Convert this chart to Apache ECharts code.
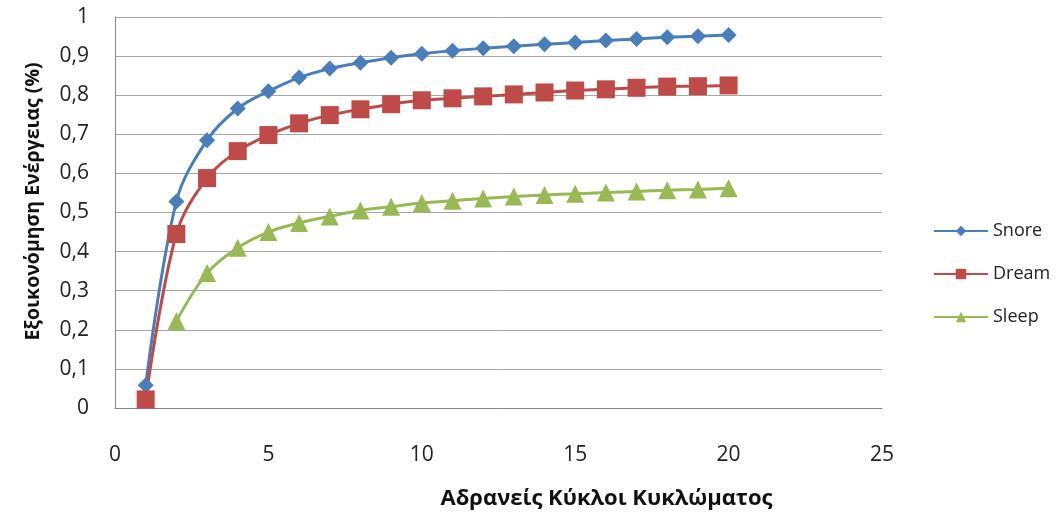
<!DOCTYPE html>
<html>
<head>
<meta charset="utf-8">
<script src="https://cdn.jsdelivr.net/npm/echarts@6/dist/echarts.min.js"></script>
<style>
  html, body { margin: 0; padding: 0; background: #fff; }
  #chart { width: 1059px; height: 515px; }
</style>
</head>
<body>
<div id="chart"></div>
<script>
// Idle circuit cycles vs. energy savings for three low-power modes
const cycles = [1, 2, 3, 4, 5, 6, 7, 8, 9, 10, 11, 12, 13, 14, 15, 16, 17, 18, 19, 20];
const snore = [0.058, 0.528, 0.685, 0.766, 0.81, 0.845, 0.868, 0.883, 0.896, 0.906,
               0.914, 0.92, 0.925, 0.93, 0.935, 0.94, 0.944, 0.948, 0.951, 0.954];
const dream = [0.022, 0.445, 0.588, 0.657, 0.698, 0.728, 0.749, 0.764, 0.777, 0.787,
               0.792, 0.797, 0.802, 0.807, 0.812, 0.815, 0.819, 0.822, 0.823, 0.825];
const sleep = [null, 0.222, 0.345, 0.41, 0.45, 0.473, 0.49, 0.505, 0.515, 0.524,
               0.53, 0.536, 0.541, 0.545, 0.548, 0.551, 0.554, 0.557, 0.559, 0.562];
const seriesNames = ['Snore', 'Dream', 'Sleep'];
const xTitle = 'Αδρανείς Κύκλοι Κυκλώματος';
const yTitle = 'Εξοικονόμηση Ενέργειας (%)';

const font = 'Open Sans, Liberation Sans, sans-serif';
const pair = (ys) => cycles.map((c, i) => [c, ys[i]]);

const chart = echarts.init(document.getElementById('chart'));
chart.setOption({
  animation: false,
  backgroundColor: '#ffffff',
  grid: { left: 115, top: 17, right: 177, bottom: 103, containLabel: false },
  legend: {
    orient: 'vertical',
    left: 928,
    top: 217,
    itemWidth: 54,
    itemHeight: 13,
    itemGap: 25,
    textStyle: { fontFamily: font, fontSize: 18, color: '#222' },
    data: seriesNames
  },
  xAxis: {
    type: 'value',
    min: 0, max: 25, interval: 5,
    name: xTitle,
    nameLocation: 'middle',
    nameGap: 80,
    nameTextStyle: {
      fontFamily: font, fontSize: 22, fontWeight: 'bold', color: '#111',
      padding: [0, 0, 0, 216]
    },
    axisLine: { show: true, lineStyle: { color: '#868686', width: 1 } },
    axisTick: { show: false },
    splitLine: { show: false },
    axisLabel: { fontFamily: font, fontSize: 21, color: '#222', margin: 37 }
  },
  yAxis: {
    type: 'value',
    min: 0, max: 1, interval: 0.1,
    name: yTitle,
    nameLocation: 'middle',
    nameGap: 72,
    nameTextStyle: {
      fontFamily: font, fontSize: 19.5, fontWeight: 'bold', color: '#111',
      padding: [0, 0, 0, 22]
    },
    axisLine: { show: true, lineStyle: { color: '#868686', width: 1 } },
    axisTick: { show: false },
    splitLine: { show: true, lineStyle: { color: '#a6a6a6', width: 1 } },
    axisLabel: {
      fontFamily: font, fontSize: 21, color: '#222', margin: 26,
      formatter: (v) => String(Math.round(v * 10) / 10).replace('.', ',')
    }
  },
  series: [
    {
      name: seriesNames[0], type: 'line', data: pair(snore), smooth: 0.35,
      symbol: 'diamond', symbolSize: 16,
      lineStyle: { width: 3, color: '#4a7ebb' },
      itemStyle: { color: '#4a7ebb' }
    },
    {
      name: seriesNames[1], type: 'line', data: pair(dream), smooth: 0.35,
      symbol: 'rect', symbolSize: 18,
      lineStyle: { width: 3, color: '#be4b48' },
      itemStyle: { color: '#be4b48' }
    },
    {
      name: seriesNames[2], type: 'line', data: pair(sleep), smooth: 0.35,
      symbol: 'triangle', symbolSize: 18,
      lineStyle: { width: 3, color: '#98b954' },
      itemStyle: { color: '#98b954' }
    }
  ]
});
</script>
</body>
</html>
